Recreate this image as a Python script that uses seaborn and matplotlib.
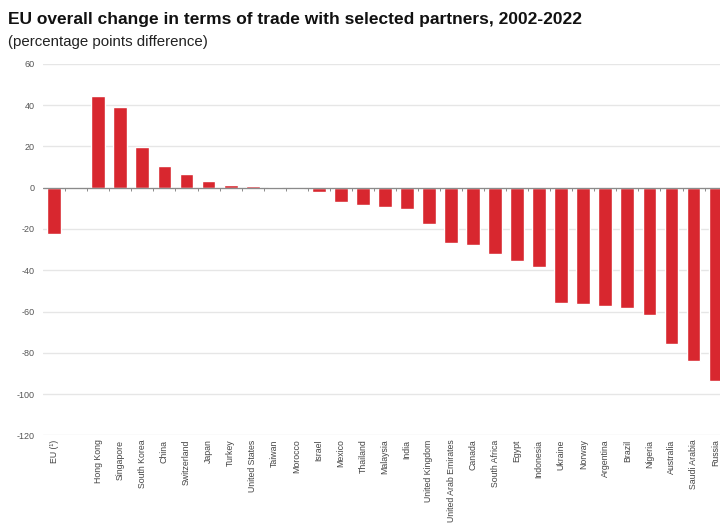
import numpy as np
import pandas as pd
import matplotlib
matplotlib.use("Agg")
import matplotlib.pyplot as plt
import seaborn as sns

partners = ["EU (¹)", "Hong Kong", "Singapore", "South Korea", "China", "Switzerland",
            "Japan", "Turkey", "United States", "Taiwan", "Morocco", "Israel", "Mexico",
            "Thailand", "Malaysia", "India", "United Kingdom", "United Arab Emirates",
            "Canada", "South Africa", "Egypt", "Indonesia", "Ukraine", "Norway",
            "Argentina", "Brazil", "Nigeria", "Australia", "Saudi Arabia", "Russia"]
change = [-22.4, 44.6, 38.8, 19.7, 10.7, 6.7, 3.0, 1.2, 0.8, 0.4, -0.6, -2.0, -7.0,
          -8.3, -9.4, -10.3, -17.4, -26.8, -27.8, -32.1, -35.4, -38.3, -55.9, -56.4,
          -57.1, -58.3, -61.5, -75.5, -84.0, -93.7]

# EU is shown apart from the partners, separated by one empty slot
gap_label = " "
order = [partners[0], gap_label] + partners[1:]

df = pd.DataFrame({"partner": partners, "change": change})

sns.set_theme(style="white")
plt.rcParams["font.family"] = ["Liberation Sans", "DejaVu Sans"]
plt.rcParams["axes.unicode_minus"] = False

fig = plt.figure(figsize=(7.2, 5.31), dpi=100)
ax = fig.add_axes([0.06, 0.18, 0.94, 0.70])

bar_red = "#d8272f"
sns.barplot(data=df, x="partner", y="change", order=order, color=bar_red,
            saturation=1, width=0.63, ax=ax)

ax.set_ylim(-120, 60)
ax.set_yticks(np.arange(-120, 61, 20))
ax.set_xlim(-0.5, len(order) - 0.8)
ax.yaxis.grid(True, color="#e6e6e6", linewidth=1.0)
ax.set_axisbelow(True)
for s in ax.spines.values():
    s.set_visible(False)

# zero baseline with small separators between categories
ax.axhline(0, color="#8a8a8a", linewidth=0.9, zorder=1)
bounds = np.arange(len(order) - 1) + 0.5
ax.vlines(bounds, -1.6, 0, color="#8a8a8a", linewidth=0.7, zorder=1)

ax.set_xlabel("")
ax.set_ylabel("")
ax.tick_params(axis="x", labelrotation=90, labelsize=6.3, labelcolor="#444444",
               length=0, pad=3)
ax.tick_params(axis="y", labelsize=6.5, labelcolor="#555555", length=0, pad=6)
for lbl in ax.get_xticklabels():
    lbl.set_verticalalignment("top")

fig.text(0.011, 0.963, "EU overall change in terms of trade with selected partners, 2002-2022",
         fontsize=12.5, fontweight="bold", color="#111111", ha="left", va="center")
fig.text(0.011, 0.921, "(percentage points difference)",
         fontsize=10.8, color="#222222", ha="left", va="center")

fig.savefig("out.png", dpi=100, facecolor="white")
